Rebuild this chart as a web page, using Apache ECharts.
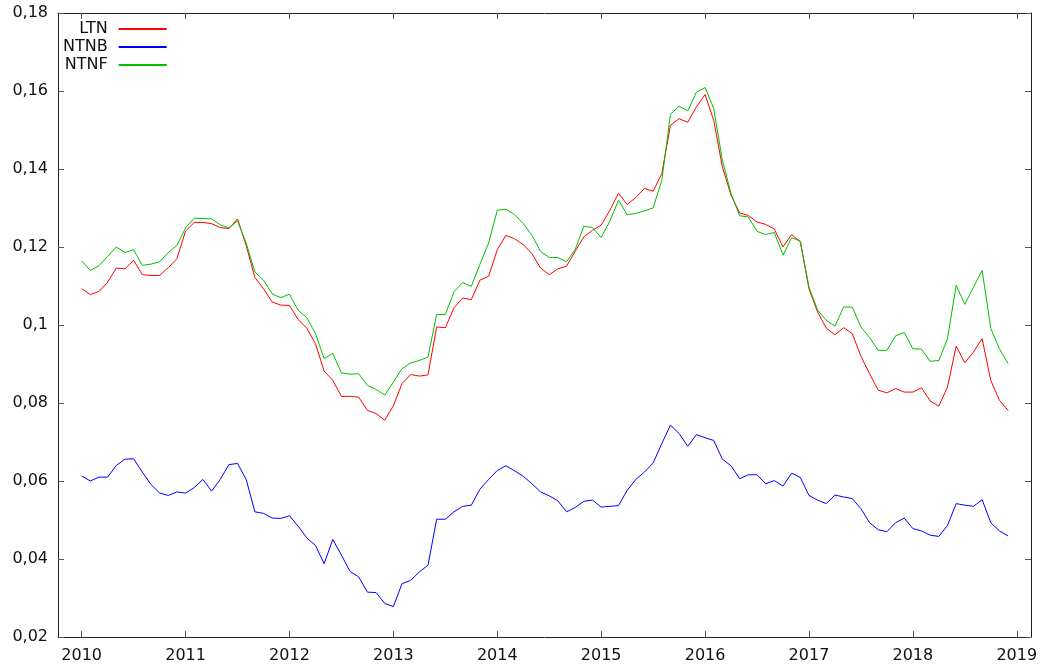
<!DOCTYPE html>
<html>
<head>
<meta charset="utf-8">
<script src="https://cdn.jsdelivr.net/npm/echarts@6/dist/echarts.min.js"></script>
<style>
    html, body {margin:0; padding:0; background:#fff;}
    #main {width:1044px; height:668px;}
</style>
</head>
<body>
<div id="main"></div>
<script>
// monthly series, Jan 2010 .. Dec 2018
const startYear = 2010;
const ltn = [
    0.1093, 0.1078, 0.1086, 0.1110, 0.1146, 0.1144, 0.1166, 0.1129, 0.1127, 0.1127, 0.1147, 0.1170,
    0.1241, 0.1263, 0.1263, 0.1260, 0.1250, 0.1247, 0.1272, 0.1204, 0.1122, 0.1093, 0.1059, 0.1051,
    0.1050, 0.1014, 0.0992, 0.0952, 0.0882, 0.0858, 0.0817, 0.0817, 0.0815, 0.0781, 0.0773, 0.0756,
    0.0793, 0.0850, 0.0873, 0.0869, 0.0872, 0.0995, 0.0993, 0.1044, 0.1069, 0.1065, 0.1115, 0.1125,
    0.1193, 0.1230, 0.1221, 0.1206, 0.1183, 0.1146, 0.1129, 0.1144, 0.1151, 0.1189, 0.1226, 0.1243,
    0.1256, 0.1294, 0.1338, 0.1309, 0.1327, 0.1350, 0.1343, 0.1388, 0.1512, 0.1529, 0.1520, 0.1559,
    0.1591, 0.1525, 0.1405, 0.1333, 0.1287, 0.1281, 0.1264, 0.1258, 0.1246, 0.1200, 0.1232, 0.1213,
    0.1093, 0.1033, 0.0992, 0.0975, 0.0993, 0.0978, 0.0920, 0.0875, 0.0833, 0.0826, 0.0837, 0.0828,
    0.0828, 0.0839, 0.0805, 0.0792, 0.0841, 0.0946, 0.0903, 0.0931, 0.0965, 0.0858, 0.0807, 0.0781
];
const ntnb = [
    0.0613, 0.0600, 0.0610, 0.0610, 0.0640, 0.0656, 0.0657, 0.0623, 0.0591, 0.0569, 0.0563, 0.0572,
    0.0569, 0.0583, 0.0604, 0.0574, 0.0604, 0.0642, 0.0645, 0.0604, 0.0521, 0.0517, 0.0505, 0.0504,
    0.0511, 0.0484, 0.0454, 0.0435, 0.0388, 0.0450, 0.0410, 0.0368, 0.0354, 0.0315, 0.0314, 0.0286,
    0.0278, 0.0337, 0.0345, 0.0367, 0.0384, 0.0502, 0.0502, 0.0521, 0.0535, 0.0538, 0.0579, 0.0604,
    0.0627, 0.0639, 0.0626, 0.0612, 0.0593, 0.0572, 0.0562, 0.0549, 0.0521, 0.0532, 0.0548, 0.0551,
    0.0533, 0.0535, 0.0537, 0.0576, 0.0604, 0.0623, 0.0646, 0.0696, 0.0743, 0.0722, 0.0689, 0.0719,
    0.0711, 0.0704, 0.0656, 0.0639, 0.0606, 0.0616, 0.0616, 0.0593, 0.0601, 0.0587, 0.0620, 0.0609,
    0.0563, 0.0551, 0.0542, 0.0564, 0.0559, 0.0555, 0.0529, 0.0493, 0.0475, 0.0470, 0.0493, 0.0505,
    0.0478, 0.0472, 0.0461, 0.0458, 0.0486, 0.0542, 0.0538, 0.0535, 0.0552, 0.0493, 0.0472, 0.0459
];
const ntnf = [
    0.1164, 0.1140, 0.1152, 0.1176, 0.1200, 0.1186, 0.1193, 0.1153, 0.1156, 0.1162, 0.1186, 0.1204,
    0.1249, 0.1274, 0.1273, 0.1272, 0.1257, 0.1249, 0.1267, 0.1210, 0.1136, 0.1115, 0.1080, 0.1070,
    0.1079, 0.1038, 0.1019, 0.0978, 0.0914, 0.0927, 0.0877, 0.0874, 0.0875, 0.0845, 0.0835, 0.0820,
    0.0854, 0.0888, 0.0903, 0.0909, 0.0918, 0.1027, 0.1027, 0.1085, 0.1109, 0.1099, 0.1156, 0.1210,
    0.1294, 0.1297, 0.1283, 0.1260, 0.1230, 0.1189, 0.1173, 0.1173, 0.1162, 0.1194, 0.1253, 0.1250,
    0.1224, 0.1266, 0.1320, 0.1283, 0.1286, 0.1293, 0.1300, 0.1371, 0.1540, 0.1561, 0.1549, 0.1597,
    0.1609, 0.1555, 0.1422, 0.1337, 0.1280, 0.1277, 0.1240, 0.1232, 0.1237, 0.1179, 0.1224, 0.1215,
    0.1097, 0.1038, 0.1012, 0.0997, 0.1046, 0.1046, 0.0995, 0.0968, 0.0935, 0.0935, 0.0972, 0.0981,
    0.0939, 0.0938, 0.0907, 0.0909, 0.0965, 0.1102, 0.1053, 0.1097, 0.1140, 0.0991, 0.0939, 0.0901
];
const yearTicks = [2010, 2011, 2012, 2013, 2014, 2015, 2016, 2017, 2018, 2019];
const yTickLabels = ['0,02', '0,04', '0,06', '0,08', '0,1', '0,12', '0,14', '0,16', '0,18'];

function toPoints(arr) {
    return arr.map((v, i) => [startYear + i / 12, v]);
}

const font = 'DejaVu Sans';
const axisColor = '#222';
const tickStyle = {show: true, inside: true, length: 6, lineStyle: {color: '#555'}};

let myChart = echarts.init(document.getElementById('main'));
myChart.setOption({
    animation: false,
    backgroundColor: '#fff',
    grid: {left: 58, right: 13, top: 13, bottom: 31},
    legend: {
        orient: 'vertical',
        align: 'right',
        left: 63,
        top: 21,
        padding: 0,
        itemGap: 2,
        itemWidth: 48,
        itemHeight: 14,
        // only the line sample, no marker
        itemStyle: {color: 'rgba(0,0,0,0)', borderWidth: 0, opacity: 0},
        textStyle: {fontFamily: font, fontSize: 16, color: '#111', padding: [0, 6, 0, 0]},
        data: ['LTN', 'NTNB', 'NTNF']
    },
    xAxis: [
        {
            type: 'value',
            position: 'bottom',
            min: 2009.772,
            max: 2019.137,
            splitLine: {show: false},
            axisLine: {show: true, lineStyle: {color: axisColor, width: 1}},
            axisTick: Object.assign({customValues: yearTicks}, tickStyle),
            axisLabel: {
                customValues: yearTicks,
                margin: 11,
                fontFamily: font,
                fontSize: 16,
                color: '#111',
                formatter: v => String(Math.round(v))
            }
        },
        {
            type: 'value',
            position: 'top',
            min: 2009.772,
            max: 2019.137,
            splitLine: {show: false},
            axisLine: {show: true, lineStyle: {color: axisColor, width: 1}},
            axisTick: Object.assign({customValues: yearTicks}, tickStyle),
            axisLabel: {show: false}
        }
    ],
    yAxis: [
        {
            type: 'value',
            position: 'left',
            min: 0.02,
            max: 0.18,
            interval: 0.02,
            splitLine: {show: false},
            axisLine: {show: true, lineStyle: {color: axisColor, width: 1}},
            axisTick: tickStyle,
            axisLabel: {
                margin: 10,
                fontFamily: font,
                fontSize: 16,
                color: '#111',
                formatter: v => yTickLabels[Math.round(v * 50) - 1]
            }
        },
        {
            type: 'value',
            position: 'right',
            min: 0.02,
            max: 0.18,
            interval: 0.02,
            splitLine: {show: false},
            axisLine: {show: true, lineStyle: {color: axisColor, width: 1}},
            axisTick: tickStyle,
            axisLabel: {show: false}
        }
    ],
    series: [
        {
            name: 'LTN',
            type: 'line',
            symbol: 'none',
            lineStyle: {color: '#ff0000', width: 1},
            itemStyle: {color: '#ff0000'},
            data: toPoints(ltn)
        },
        {
            name: 'NTNB',
            type: 'line',
            symbol: 'none',
            lineStyle: {color: '#0000ff', width: 1},
            itemStyle: {color: '#0000ff'},
            data: toPoints(ntnb)
        },
        {
            name: 'NTNF',
            type: 'line',
            symbol: 'none',
            lineStyle: {color: '#00c000', width: 1},
            itemStyle: {color: '#00c000'},
            data: toPoints(ntnf)
        }
    ]
});
</script>
</body>
</html>
